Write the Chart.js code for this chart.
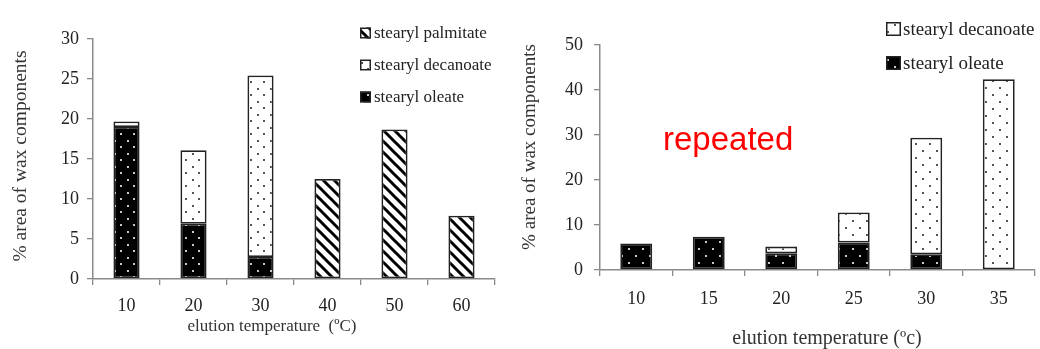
<!DOCTYPE html>
<html>
<head>
<meta charset="utf-8">
<script src="https://cdn.jsdelivr.net/npm/chart.js@4.4.0/dist/chart.umd.min.js"></script>
<style>
  html, body { margin: 0; padding: 0; background: #fff; }
  #wrap { position: relative; width: 1040px; height: 349px; overflow: hidden; background: #fff; }
  .panel { position: absolute; top: 0; width: 520px; height: 349px; }
</style>
</head>
<body>
<div id="wrap">
  <div class="panel" style="left:0"><canvas id="runA"></canvas></div>
  <div class="panel" style="left:520px"><canvas id="runB"></canvas></div>
</div>
<script>
// First elution run
const tempsA = ['10', '20', '30', '40', '50', '60'];
const oleateA = [19.0, 6.9, 2.75, null, null, null];
const decanoateA = [0.7, 9.2, 22.7, null, null, null];
const palmitateA = [null, null, null, 12.5, 18.7, 7.9];
const yTicksA = [0, 5, 10, 15, 20, 25, 30];

// Repeated elution run
const tempsB = ['10', '15', '20', '25', '30', '35'];
const oleateB = [5.9, 7.4, 3.7, 6.1, 3.5, null];
const decanoateB = [null, null, 1.5, 6.7, 25.9, 42.4];
const yTicksB = [0, 10, 20, 30, 40, 50];

const labelOleate = 'stearyl oleate';
const labelDecanoate = 'stearyl decanoate';
const labelPalmitate = 'stearyl palmitate';
const yTitle = '% area of wax components';
const xTitleA = 'elution temperature  (ºC)';
const xTitleB = 'elution temperature (ºc)';
const noteB = 'repeated';

const SERIF = '"Liberation Serif", "Times New Roman", serif';
const SANS = '"Liberation Sans", Arial, sans-serif';
const INK = '#222';
const AXIS = '#8a8a8a';

// fill patterns
function dotPattern(bg, dot, w, h) {
  const c = document.createElement('canvas');
  c.width = w; c.height = h;
  const g = c.getContext('2d');
  g.fillStyle = bg; g.fillRect(0, 0, w, h);
  g.fillStyle = dot;
  g.fillRect(3, 3, 2, 2);
  g.fillRect(3 + Math.round(w / 2), 3 + Math.round(h / 2), 2, 2);
  return g.createPattern(c, 'repeat');
}
function stripePattern(size, lw) {
  const c = document.createElement('canvas');
  c.width = size; c.height = size;
  const g = c.getContext('2d');
  g.fillStyle = '#fff'; g.fillRect(0, 0, size, size);
  g.strokeStyle = '#000'; g.lineWidth = lw;
  for (const k of [-size, 0, size]) {
    g.beginPath();
    g.moveTo(k - 2, -2);
    g.lineTo(k + size + 2, size + 2);
    g.stroke();
  }
  return g.createPattern(c, 'repeat');
}

// legend drawn inside the plot, plus free-placed titles
const annotations = {
  id: 'annotations',
  afterDraw(chart, args, o) {
    const ctx = chart.ctx;
    ctx.save();
    // legend
    const L = o.legend;
    L.order.forEach((di, i) => {
      const ds = chart.data.datasets[di];
      const cy = L.y + i * L.dy;
      const bx = L.x, by = cy - L.bh / 2;
      ctx.fillStyle = ds.backgroundColor;
      ctx.fillRect(bx, by, L.bw, L.bh);
      ctx.strokeStyle = INK; ctx.lineWidth = 1.5;
      ctx.strokeRect(bx + 0.75, by + 0.75, L.bw - 1.5, L.bh - 1.5);
      ctx.fillStyle = INK;
      ctx.font = L.font + 'px ' + SERIF;
      ctx.textAlign = 'left'; ctx.textBaseline = 'middle';
      ctx.fillText(ds.label, bx + L.bw + L.gap, cy + 1);
    });
    // axis titles
    ctx.fillStyle = '#333';
    ctx.textAlign = 'center'; ctx.textBaseline = 'middle';
    ctx.font = o.xt.font + 'px ' + SERIF;
    ctx.fillText(o.xt.text, o.xt.x, o.xt.y);
    ctx.save();
    ctx.translate(o.yt.x, o.yt.y);
    ctx.rotate(-Math.PI / 2);
    ctx.font = o.yt.font + 'px ' + SERIF;
    ctx.fillText(o.yt.text, 0, 0);
    ctx.restore();
    if (o.note) {
      ctx.fillStyle = '#ff0000';
      ctx.font = o.note.font + 'px ' + SANS;
      ctx.textAlign = 'left'; ctx.textBaseline = 'alphabetic';
      ctx.fillText(o.note.text, o.note.x, o.note.y);
    }
    ctx.restore();
  }
};

function makeChart(id, cfg) {
  const ticks = cfg.yTicks;
  return new Chart(document.getElementById(id), {
    type: 'bar',
    data: { labels: cfg.labels, datasets: cfg.datasets },
    plugins: [annotations],
    options: {
      responsive: true,
      maintainAspectRatio: false,
      animation: false,
      layout: { padding: cfg.padding },
      datasets: {
        bar: {
          categoryPercentage: 1,
          barPercentage: cfg.barPct,
          borderColor: INK,
          borderWidth: 1.8,
          borderSkipped: false
        }
      },
      plugins: {
        legend: { display: false },
        tooltip: { enabled: false },
        annotations: cfg.ann
      },
      scales: {
        x: {
          stacked: true,
          afterFit: s => { s.height = cfg.xHeight; },
          grid: { display: true, drawOnChartArea: false, drawTicks: true, tickLength: 6, color: AXIS, offset: true, lineWidth: 1.3 },
          border: { display: true, color: AXIS, width: 1.5 },
          ticks: { color: '#222', padding: cfg.xPad, font: { family: SERIF, size: cfg.tickFont }, maxRotation: 0 }
        },
        y: {
          stacked: true,
          min: ticks[0],
          max: ticks[ticks.length - 1],
          afterFit: s => { s.width = cfg.yWidth; },
          grid: { display: true, drawOnChartArea: false, drawTicks: true, tickLength: 6, color: AXIS, lineWidth: 1.3 },
          border: { display: true, color: AXIS, width: 1.5 },
          afterBuildTicks: s => { s.ticks = ticks.map(v => ({ value: v })); },
          ticks: { color: '#222', padding: cfg.yPad, font: { family: SERIF, size: cfg.tickFont } }
        }
      }
    }
  });
}

const blackDotsA = dotPattern('#000', '#c8c8c8', 13, 13);
const whiteDotsA = dotPattern('#fff', '#555', 13, 13);
const stripes = stripePattern(11, 3.0);
const blackDotsB = dotPattern('#000', '#c8c8c8', 14, 14);
const whiteDotsB = dotPattern('#fff', '#555', 14, 14);

makeChart('runA', {
  labels: tempsA,
  yTicks: yTicksA,
  padding: { left: 0, top: 39, right: 25, bottom: 0 },
  yWidth: 93, xHeight: 70, xPad: 10, yPad: 8, tickFont: 18, barPct: 0.39,
  datasets: [
    { label: labelOleate, data: oleateA, backgroundColor: blackDotsA },
    { label: labelDecanoate, data: decanoateA, backgroundColor: whiteDotsA },
    { label: labelPalmitate, data: palmitateA, backgroundColor: stripes }
  ],
  ann: {
    legend: { order: [2, 1, 0], x: 360, y: 33, dy: 32, bw: 11, bh: 11, gap: 3, font: 17 },
    xt: { text: xTitleA, x: 272, y: 327, font: 17 },
    yt: { text: yTitle, x: 21, y: 156, font: 19.5 }
  }
});

makeChart('runB', {
  labels: tempsB,
  yTicks: yTicksB,
  padding: { left: 0, top: 45, right: 5, bottom: 0 },
  yWidth: 80, xHeight: 79, xPad: 12, yPad: 11, tickFont: 18, barPct: 0.44,
  datasets: [
    { label: labelOleate, data: oleateB, backgroundColor: blackDotsB },
    { label: labelDecanoate, data: decanoateB, backgroundColor: whiteDotsB }
  ],
  ann: {
    legend: { order: [1, 0], x: 366, y: 29, dy: 34, bw: 15, bh: 14, gap: 2, font: 19 },
    xt: { text: xTitleB, x: 307, y: 339, font: 20 },
    yt: { text: yTitle, x: 10, y: 147, font: 19 },
    note: { text: noteB, x: 143, y: 150, font: 33 }
  }
});
</script>
</body>
</html>
